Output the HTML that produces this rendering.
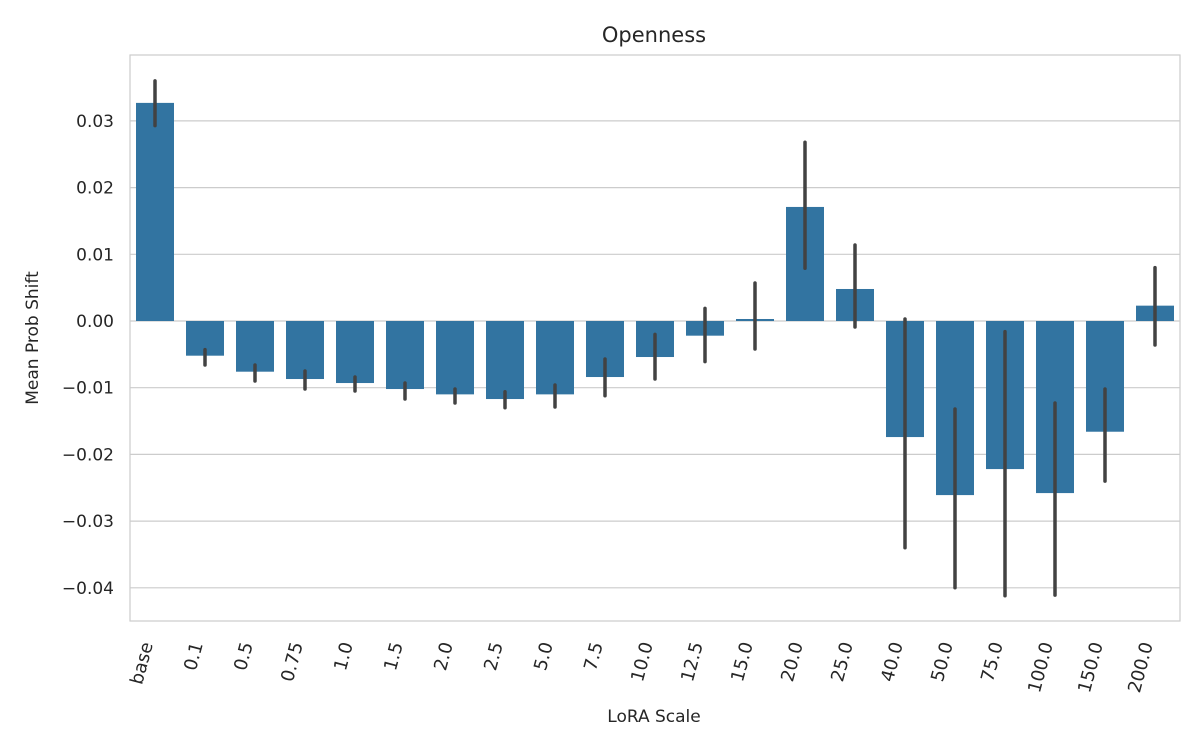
<!DOCTYPE html>
<html><head><meta charset="utf-8"><style>
body{margin:0;background:#fff;font-family:"Liberation Sans","DejaVu Sans",sans-serif;}
</style></head><body>
<svg id="chart" width="1200" height="750" xmlns="http://www.w3.org/2000/svg" font-family="'DejaVu Sans','Liberation Sans',sans-serif">
<rect width="1200" height="750" fill="#fff"/>
<g id="grid"></g><g id="bars"></g><g id="errs"></g><g id="ticks"></g>
<rect x="130" y="55" width="1050" height="566" fill="none" stroke="#cccccc" stroke-width="1.2"/>
<text x="654" y="42" text-anchor="middle" font-size="21" fill="#262626">Openness</text>
<text x="654" y="722" text-anchor="middle" font-size="17" fill="#262626">LoRA Scale</text>
<text transform="translate(38,338) rotate(-90)" text-anchor="middle" font-size="17" fill="#262626">Mean Prob Shift</text>
</svg>
<script>
const categories=["base","0.1","0.5","0.75","1.0","1.5","2.0","2.5","5.0","7.5","10.0","12.5","15.0","20.0","25.0","40.0","50.0","75.0","100.0","150.0","200.0"];
const values=[0.0327,-0.0052,-0.0076,-0.0087,-0.0093,-0.0102,-0.011,-0.0117,-0.011,-0.0084,-0.0054,-0.0022,0.0003,0.0171,0.0048,-0.0174,-0.0261,-0.0222,-0.0258,-0.0166,0.0023];
const errHigh=[0.036,-0.0043,-0.0066,-0.0075,-0.0084,-0.0093,-0.0102,-0.0106,-0.0096,-0.0057,-0.002,0.0019,0.0057,0.0268,0.0114,0.0003,-0.0132,-0.0016,-0.0123,-0.0102,0.008];
const errLow=[0.0293,-0.0066,-0.009,-0.0102,-0.0105,-0.0117,-0.0123,-0.013,-0.0129,-0.0112,-0.0087,-0.0061,-0.0042,0.0079,-0.0009,-0.034,-0.040,-0.0412,-0.0411,-0.024,-0.0036];
const yTicks=[0.03,0.02,0.01,0.00,-0.01,-0.02,-0.03,-0.04];
const yTickLabels=["0.03","0.02","0.01","0.00","\u22120.01","\u22120.02","\u22120.03","\u22120.04"];
const NS="http://www.w3.org/2000/svg";
const X0=130,W=1050,step=W/categories.length;
function x(i){return X0+step*(i+0.5);}
function y(v){return 321-v*6670;}
function mk(t,a,p){const e=document.createElementNS(NS,t);for(const k in a)e.setAttribute(k,a[k]);document.getElementById(p).appendChild(e);return e;}
yTicks.forEach((v,i)=>{
 const l=mk('line',{x1:X0,x2:X0+W,y1:y(v),y2:y(v),stroke:'#cccccc','stroke-width':1.2},'grid');
 
 
 const t=mk('text',{x:114,y:y(v)+6,'text-anchor':'end','font-size':17,fill:'#262626'},'ticks');
 t.textContent=yTickLabels[i];
 
 
});
categories.forEach((c,i)=>{
 const v=values[i],bw=38;
 const r=mk('rect',{x:x(i)-bw/2,y:Math.min(y(v),y(0)),width:bw,height:Math.max(Math.abs(y(v)-y(0)),1),fill:'#3274a1'},'bars');
 
 
 const e=mk('line',{x1:x(i),x2:x(i),y1:y(errHigh[i]),y2:y(errLow[i]),stroke:'#424242','stroke-width':3.5,'stroke-linecap':'round'},'errs');
 
 
 const t=mk('text',{transform:`translate(${x(i)-2},644) rotate(-75)`,'text-anchor':'end','font-size':18,fill:'#262626'},'ticks');
 t.textContent=c;
 
 
});
</script>
</body></html>
